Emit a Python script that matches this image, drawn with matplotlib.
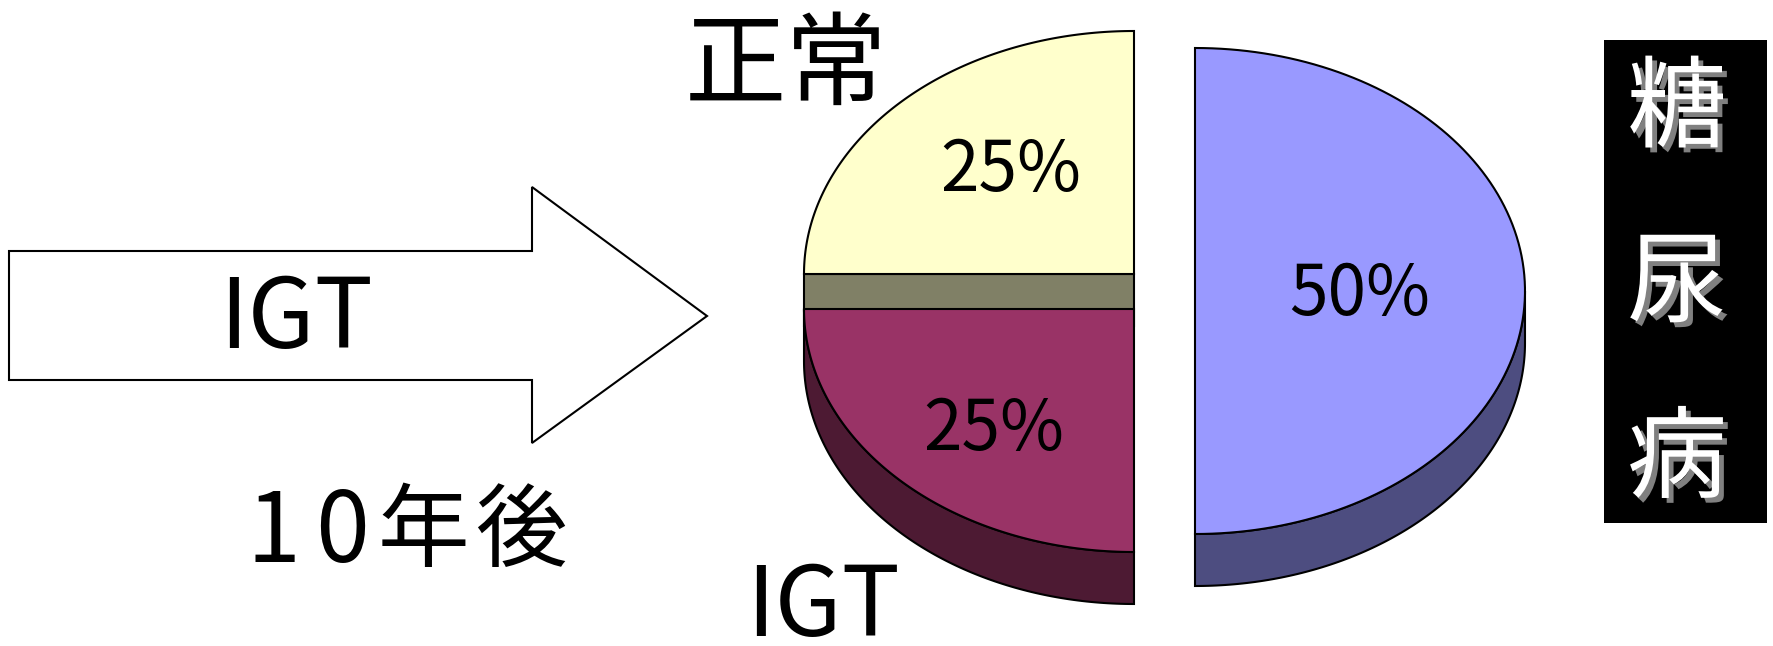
"""IGT 10年後の転帰 — 分割3D円グラフ + 矢印"""

import numpy as np
import matplotlib
matplotlib.use("Agg")
import matplotlib.pyplot as plt
import matplotlib.patheffects as pe
from matplotlib.patches import Polygon, Rectangle

plt.rcParams["font.family"] = ["Noto Sans CJK JP", "DejaVu Sans"]

# ---- data ----
labels = ["正常", "IGT", "糖尿病"]
values = [25, 25, 50]
colors = ["#FFFFCC", "#993366", "#9999FF"]
arrow_label = "IGT"
period_label = "10年後"

# ---- layout (pixel coords, y down) ----
W, H = 1774, 646
rx, ry, thick = 330, 243, 52
centres = [(1134, 274), (1134, 309), (1195, 291)]   # exploded slice centres
label_frac = [(0.53, 0.62), (0.60, 0.68), (0.50, 0.0)]
start_angle = 270  # top of pie, slices run anticlockwise on screen
period_x = [274, 342, 423, 521]   # 1文字ずつの中心 (元図は字送りが広い)
period_fs = [70, 70, 66, 66]


def arc(cx, cy, t0, t1, n=120):
    t = np.radians(np.linspace(t0, t1, n))
    return np.column_stack([cx + rx * np.cos(t), cy + ry * np.sin(t)])


def shade(c):
    rgb = np.array(matplotlib.colors.to_rgb(c))
    return tuple(rgb * 0.5)


fig = plt.figure(figsize=(W / 100, H / 100), dpi=100)
ax = fig.add_axes([0, 0, 1, 1])
ax.set_xlim(0, W)
ax.set_ylim(H, 0)
ax.axis("off")

# arrow
arrow_pts = [(9, 251), (532, 251), (532, 187), (707, 316),
             (532, 443), (532, 380), (9, 380)]
ax.add_patch(Polygon(arrow_pts, closed=True, fc="white", ec="black", lw=1.5))
ax.text(296, 320, arrow_label, fontsize=70, ha="center", va="center")
for ch, x, fs in zip(period_label, period_x, period_fs):
    ax.text(x, 534, ch, fontsize=fs, ha="center", va="center")

# pie slices
a_hi = start_angle
for i, (lab, v, c) in enumerate(zip(labels, values, colors)):
    span = 360 * v / sum(values)
    a_lo = a_hi - span
    cx, cy = centres[i]
    mid = (a_lo + a_hi) / 2
    dark = shade(c)

    # radial faces facing the viewer
    for te in (a_lo, a_hi):
        e = np.radians(te)
        d = np.array([np.cos(np.radians(mid)), np.sin(np.radians(mid))])
        nrm = np.array([-np.sin(e), np.cos(e)])
        if nrm @ d > 0:
            nrm = -nrm
        if nrm[1] > 1e-6:
            px, py = cx + rx * np.cos(e), cy + ry * np.sin(e)
            face = [(cx, cy), (px, py), (px, py + thick), (cx, cy + thick)]
            ax.add_patch(Polygon(face, closed=True, fc=dark, ec="black", lw=1.5))

    # outer side (front half only)
    lo_n, hi_n = a_lo, a_hi
    while hi_n > 180 and lo_n >= 180:
        lo_n -= 360
        hi_n -= 360
    s0, s1 = max(lo_n, 0), min(hi_n, 180)
    if s1 > s0:
        top = arc(cx, cy, s0, s1)
        bot = arc(cx, cy + thick, s1, s0)
        ax.add_patch(Polygon(np.vstack([top, bot]), closed=True,
                             fc=dark, ec="black", lw=1.5))

    # top face
    pts = np.vstack([[cx, cy], arc(cx, cy, a_lo, a_hi)])
    ax.add_patch(Polygon(pts, closed=True, fc=c, ec="black", lw=1.5))

    m = np.radians(mid)
    fx, fy = label_frac[i]
    ax.text(cx + fx * rx * np.cos(m), cy + fy * ry * np.sin(m) + 4,
            f"{v}%", fontsize=50, ha="center", va="center")
    a_hi = a_lo

# category labels
ax.text(786, 67, labels[0], fontsize=73, ha="center", va="center")
ax.text(823, 608, labels[1], fontsize=70, ha="center", va="center")

ax.add_patch(Rectangle((1604, 40), 163, 483, fc="black", ec="none"))
shadow = [pe.SimplePatchShadow(offset=(3.5, -3.5), shadow_rgbFace="#808080", alpha=1),
          pe.Normal()]
ax.text(1677, 286, "\n".join(labels[2]), fontsize=72, ha="center", va="center",
        color="white", linespacing=1.89, path_effects=shadow)

fig.savefig("out.png", dpi=100)
